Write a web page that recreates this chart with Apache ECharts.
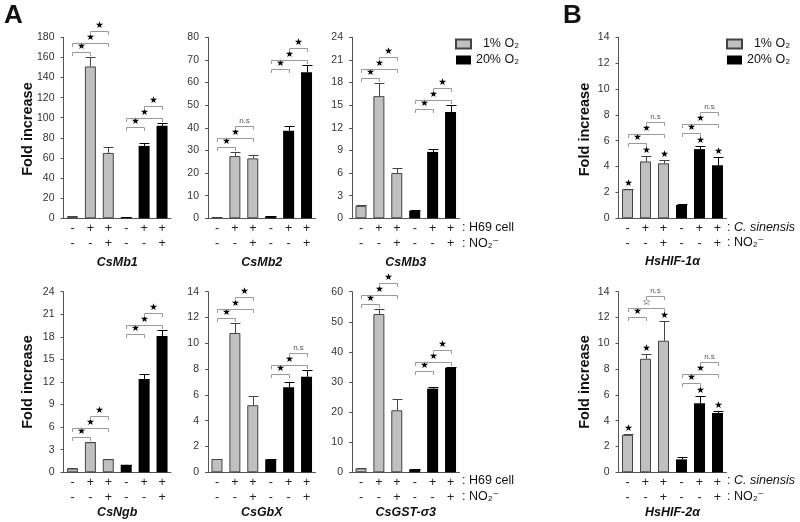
<!doctype html>
<html lang="en">
<head>
<meta charset="UTF-8">
<script src="https://cdn.jsdelivr.net/npm/echarts@6/dist/echarts.min.js"></script>
<title>Fold increase</title>
</head>
<body style="margin:0">
<div id="main" style="width:800px;height:522px;"></div>
<script>
// condition rows printed under the bars
var h69Row = ['-', '+', '+', '-', '+', '+'];
var no2Row = ['-', '-', '+', '-', '-', '+'];
var slots = ['s1', 's2', 's3', 's4', 's5', 's6'];

// mean and upper error, first 3 = 1% O2, last 3 = 20% O2
var csMb1 = [1.5, 151, 65, 1.0, 72, 92];
var csMb1Err = [0.3, 9, 6, 0.3, 2.7, 2.4];
var csMb2 = [0.5, 27.5, 26.5, 1.0, 38.7, 64.5];
var csMb2Err = [0.1, 1.8, 1.5, 0.1, 2.2, 3.1];
var csMb3 = [1.65, 16.2, 6.0, 1.0, 8.8, 14.1];
var csMb3Err = [0.05, 1.75, 0.65, 0.05, 0.4, 0.9];
var csNgb = [0.5, 4.0, 1.75, 1.0, 12.4, 18.1];
var csNgbErr = [0.05, 0.08, 0.05, 0.03, 0.7, 0.8];
var csGbX = [1.03, 10.8, 5.2, 1.0, 6.6, 7.4];
var csGbXErr = [0.03, 0.8, 0.7, 0.02, 0.4, 0.5];
var csGst = [1.3, 52.6, 20.6, 1.0, 27.8, 34.7];
var csGstErr = [0.1, 1.8, 3.6, 0.1, 0.7, 0.4];
var hif1a = [2.25, 4.4, 4.25, 1.03, 5.35, 4.1];
var hif1aErr = [0.05, 0.4, 0.25, 0.07, 0.25, 0.65];
var hif2a = [2.9, 8.8, 10.2, 1.0, 5.35, 4.6];
var hif2aErr = [0.1, 0.37, 1.5, 0.15, 0.57, 0.13];

// brackets: [a-b, a-c, b-c] for the 1% group, then the 20% group
var S = '★', N = 'n.s', O = '☆';
var csMb1Sig = [S, S, S, S, S, S];
var csMb2Sig = [S, S, N, S, S, S];
var csMb3Sig = [S, S, S, S, S, S];
var csNgbSig = [S, S, S, S, S, S];
var csGbXSig = [S, S, S, S, S, N];
var csGstSig = [S, S, S, S, S, S];
var hif1aSig = [S, S, N, S, S, N];
var hif2aSig = [S, O, N, S, S, N];
// stars sitting on the bars (panel B)
var hif1aMark = [S, S, S, '', S, S];
var hif2aMark = [S, S, S, '', S, S];

var FONT = 'Arial, "Liberation Sans", "DejaVu Sans", sans-serif';

var panels = [
    {gene: 'CsMb1', mean: csMb1, err: csMb1Err, sig: csMb1Sig, mark: null, max: 180, step: 20, left: 63.5, top: 37.3, height: 181, gap: 38},
    {gene: 'CsMb2', mean: csMb2, err: csMb2Err, sig: csMb2Sig, mark: null, max: 80, step: 10, left: 208, top: 37.3, height: 181, gap: 38},
    {gene: 'CsMb3', mean: csMb3, err: csMb3Err, sig: csMb3Sig, mark: null, max: 24, step: 3, left: 352, top: 37.3, height: 181, gap: 38},
    {gene: 'CsNgb', mean: csNgb, err: csNgbErr, sig: csNgbSig, mark: null, max: 24, step: 3, left: 63.5, top: 291.7, height: 180.6, gap: 34},
    {gene: 'CsGbX', mean: csGbX, err: csGbXErr, sig: csGbXSig, mark: null, max: 14, step: 2, left: 208, top: 291.7, height: 180.6, gap: 34},
    {gene: 'CsGST-σ3', mean: csGst, err: csGstErr, sig: csGstSig, mark: null, max: 60, step: 10, left: 352, top: 291.7, height: 180.6, gap: 34},
    {gene: 'HsHIF-1α', mean: hif1a, err: hif1aErr, sig: hif1aSig, mark: hif1aMark, max: 14, step: 2, left: 618.5, top: 37.3, height: 181, gap: 37},
    {gene: 'HsHIF-2α', mean: hif2a, err: hif2aErr, sig: hif2aSig, mark: hif2aMark, max: 14, step: 2, left: 618.5, top: 291.7, height: 180.6, gap: 33}
];

function errorRenderer(p) {
    return function (params, api) {
        var k = api.value(0);
        var base = api.coord([k, api.value(1)]);
        var top = api.coord([k, api.value(1) + api.value(2)]);
        var col = k < 3 ? '#444' : '#000';
        var x = Math.round(base[0]) + 0.5, y = Math.round(top[1]) + 0.5;
        var children = [
            {type: 'line', shape: {x1: x, y1: base[1], x2: x, y2: y}, style: {stroke: col, lineWidth: 1}},
            {type: 'line', shape: {x1: x - 5, y1: y, x2: x + 5, y2: y}, style: {stroke: col, lineWidth: 1}}
        ];
        if (p.mark && p.mark[k]) {
            children.push({type: 'text', style: {text: p.mark[k], x: x, y: y - 0.5, align: 'center', verticalAlign: 'bottom',
                font: '9.5px "DejaVu Sans"', fill: '#000'}});
        }
        return {type: 'group', children: children};
    };
}

function bracketRenderer(p) {
    return function (params, api) {
        var g = api.value(0);
        var xs = [], tops = [];
        for (var k = g; k < g + 3; k++) {
            var pt = api.coord([k, p.mean[k] + p.err[k]]);
            xs.push(Math.round(pt[0]) + 0.5);
            tops.push(pt[1] - (p.mark && p.mark[k] ? 8 : 0));
        }
        // bracket spanning all three sits above everything
        var yMid = Math.min(Math.min.apply(null, tops) - 5, Math.min(tops[0], tops[1]) - 14);
        var levels = [[0, 1, yMid + 9], [0, 2, yMid], [1, 2, yMid - 12]];
        var children = [];
        levels.forEach(function (lv, j) {
            var xa = xs[lv[0]], xb = xs[lv[1]], y = Math.round(lv[2]) + 0.5;
            children.push({type: 'polyline', shape: {points: [[xa, y + 3.5], [xa, y], [xb, y], [xb, y + 3.5]]},
                style: {stroke: '#9a9a9a', fill: 'none', lineWidth: 1}});
            var lab = p.sig[g + j];
            var ns = lab === N;
            children.push({type: 'text', style: {text: lab, x: (xa + xb) / 2, y: y - (ns ? 1.5 : 0.5), align: 'center', verticalAlign: 'bottom',
                font: ns ? '8px ' + FONT : '9.5px "DejaVu Sans"', fill: ns ? '#555' : '#000'}});
        });
        return {type: 'group', children: children};
    };
}

var grids = [], xAxes = [], yAxes = [], series = [];
panels.forEach(function (p, i) {
    grids.push({left: p.left, top: p.top, width: p.left > 600 ? 108 : 107.5, height: p.height});
    xAxes.push({
        type: 'category', gridIndex: i, data: slots,
        axisLine: {lineStyle: {color: '#555', width: 1}},
        axisTick: {show: false},
        axisLabel: {
            interval: 0, margin: 3, fontFamily: FONT, fontSize: 12.5, lineHeight: 15, color: '#222',
            formatter: function (v, idx) { return h69Row[idx] + '\n' + no2Row[idx]; }
        },
        name: p.gene, nameLocation: 'middle', nameGap: p.gap,
        nameTextStyle: {fontFamily: FONT, fontSize: 12.5, fontWeight: 'bold', fontStyle: 'italic', color: '#111'}
    });
    yAxes.push({
        type: 'value', gridIndex: i, min: 0, max: p.max, interval: p.step,
        splitLine: {show: false},
        axisLine: {show: true, lineStyle: {color: '#555', width: 1}},
        axisTick: {show: true, length: 3, lineStyle: {color: '#555'}},
        axisLabel: {fontFamily: FONT, fontSize: 10.5, color: '#333', margin: 9}
    });
    series.push({
        name: '1% O₂', type: 'bar', xAxisIndex: i, yAxisIndex: i, barWidth: 11, barGap: '-100%',
        itemStyle: {color: '#c0c0c0', borderColor: '#444', borderWidth: 1},
        data: p.mean.map(function (v, k) { return k < 3 ? v : '-'; })
    });
    series.push({
        name: '20% O₂', type: 'bar', xAxisIndex: i, yAxisIndex: i, barWidth: 11, barGap: '-100%',
        itemStyle: {color: '#000'},
        data: p.mean.map(function (v, k) { return k >= 3 ? v : '-'; })
    });
    series.push({
        type: 'custom', xAxisIndex: i, yAxisIndex: i, renderItem: errorRenderer(p), z: 3,
        data: p.mean.map(function (v, k) { return [k, v, p.err[k]]; })
    });
    series.push({
        type: 'custom', xAxisIndex: i, yAxisIndex: i, renderItem: bracketRenderer(p), z: 3,
        data: [[0, 0], [3, 0]]
    });
});

function legendAt(left) {
    return {
        data: ['1% O₂', '20% O₂'], orient: 'vertical', left: left, top: 37, padding: 0,
        icon: 'rect', itemWidth: 15, itemHeight: 9, itemGap: 2, selectedMode: false,
        formatter: function (name) { return '{r|' + name + '}'; },
        textStyle: {fontFamily: FONT, fontSize: 12.5, color: '#111', lineHeight: 14,
            rich: {r: {width: 43, align: 'right', fontFamily: FONT, fontSize: 12.5, color: '#111'}}}
    };
}

function txt(x, y, s, opt) {
    opt = opt || {};
    return {
        type: 'text', x: x, y: y, rotation: opt.rot || 0,
        style: {
            text: s, font: opt.font || ('12.5px ' + FONT), fill: '#111',
            align: opt.align || 'left', textAlign: opt.align || 'left',
            verticalAlign: 'middle', textVerticalAlign: 'middle', rich: opt.rich
        }
    };
}

var foldFont = 'bold 14.5px ' + FONT;
var italicRich = {a: {fontFamily: FONT, fontSize: 12.5, color: '#111'}, b: {fontFamily: FONT, fontSize: 12.5, fontStyle: 'italic', color: '#111'}};
var graphics = [
    txt(4, 16, 'A', {font: 'bold 26px ' + FONT}),
    txt(563, 16, 'B', {font: 'bold 26px ' + FONT}),
    txt(27.5, 129, 'Fold increase', {font: foldFont, align: 'center', rot: Math.PI / 2}),
    txt(27.5, 382, 'Fold increase', {font: foldFont, align: 'center', rot: Math.PI / 2}),
    txt(584.5, 129.5, 'Fold increase', {font: foldFont, align: 'center', rot: Math.PI / 2}),
    txt(584.5, 382, 'Fold increase', {font: foldFont, align: 'center', rot: Math.PI / 2}),
    txt(462, 228, ': H69 cell'),
    txt(462, 243.5, ': NO₂⁻'),
    txt(462, 481, ': H69 cell'),
    txt(462, 497, ': NO₂⁻'),
    txt(727, 227.5, '{a|: }{b|C. sinensis}', {rich: italicRich}),
    txt(727, 243, ': NO₂⁻'),
    txt(727, 481, '{a|: }{b|C. sinensis}', {rich: italicRich}),
    txt(727, 496.5, ': NO₂⁻')
];

var myChart = echarts.init(document.getElementById('main'));
myChart.setOption({
    animation: false,
    backgroundColor: '#fff',
    legend: [legendAt(455), legendAt(726)],
    grid: grids,
    xAxis: xAxes,
    yAxis: yAxes,
    series: series,
    graphic: graphics
});
</script>
</body>
</html>
